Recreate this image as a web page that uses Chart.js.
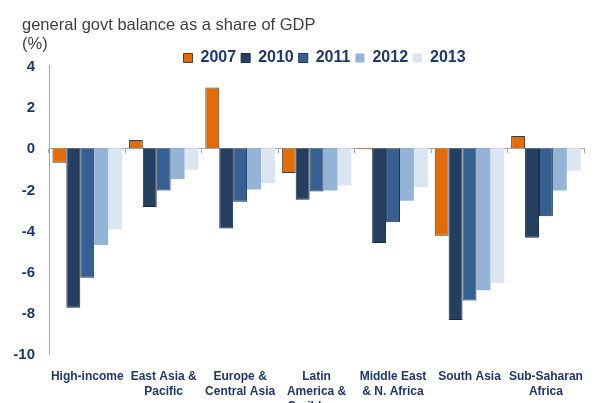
<!DOCTYPE html>
<html lang="en">
<head>
    <meta charset="UTF-8">
    <title>General govt balance</title>
    <script src="https://cdn.jsdelivr.net/npm/chart.js"></script>
    <style>
        body { margin: 0; background: #ffffff; }
        canvas { display: block; }
    </style>
</head>
<body>
    <canvas id="balanceChart" width="599" height="403"></canvas>
    <script>
        // regions (x axis labels, multi-line)
        const regions = [
            ['High-income'],
            ['East Asia &', 'Pacific'],
            ['Europe &', 'Central Asia'],
            ['Latin', 'America &', 'Caribbean'],
            ['Middle East', '& N. Africa'],
            ['South Asia'],
            ['Sub-Saharan', 'Africa']
        ];
        const years = ['2007', '2010', '2011', '2012', '2013'];

        // balance, % of GDP
        const bal2007 = [-0.7, 0.4, 2.95, -1.2, -0.05, -4.25, 0.6];
        const bal2010 = [-7.75, -2.85, -3.9, -2.5, -4.6, -8.35, -4.35];
        const bal2011 = [-6.3, -2.05, -2.6, -2.1, -3.6, -7.4, -3.3];
        const bal2012 = [-4.7, -1.5, -2.0, -2.05, -2.55, -6.9, -2.05];
        const bal2013 = [-3.95, -1.05, -1.7, -1.8, -1.9, -6.55, -1.1];

        const yTicks = [4, 2, 0, -2, -4, -6, -8, -10];

        const navy = '#1f3864';
        const fontFamily = "'Liberation Sans', Arial, sans-serif";

        // nudge title and legend sideways to where the original has them
        const nudge = {
            id: 'nudge',
            afterLayout(chart) {
                chart.titleBlock.left += 11;
                chart.titleBlock.right += 11;
                chart.legend.left += 8;
                chart.legend.right += 8;
            }
        };

        const ctx = document.getElementById('balanceChart').getContext('2d');
        new Chart(ctx, {
            type: 'bar',
            data: {
                labels: regions,
                datasets: [
                    { label: years[0], data: bal2007, backgroundColor: '#e36c0a', borderColor: '#4a3a2a', borderWidth: 1 },
                    { label: years[1], data: bal2010, backgroundColor: '#243f60', borderColor: '#1a2a40', borderWidth: 1 },
                    { label: years[2], data: bal2011, backgroundColor: '#366092', borderColor: '#1f3350', borderWidth: 1 },
                    { label: years[3], data: bal2012, backgroundColor: '#95b3d7', borderWidth: 0 },
                    { label: years[4], data: bal2013, backgroundColor: '#dce6f2', borderWidth: 0 }
                ]
            },
            plugins: [nudge],
            options: {
                responsive: false,
                animation: false,
                categoryPercentage: 0.91,
                barPercentage: 1.0,
                layout: { padding: { left: 11, right: 2, top: 0, bottom: 0 } },
                plugins: {
                    title: {
                        display: true,
                        text: ['general govt balance as a share of GDP', '(%)'],
                        align: 'start',
                        color: '#3f3f3f',
                        font: { family: fontFamily, size: 16.5, weight: 'normal', lineHeight: 1.21 },
                        padding: { top: 15, bottom: -10 }
                    },
                    legend: {
                        display: true,
                        fullSize: false,
                        maxHeight: 21,
                        labels: {
                            boxWidth: 9,
                            boxHeight: 9,
                            padding: 5,
                            color: navy,
                            font: { family: fontFamily, size: 16, weight: 'bold' }
                        }
                    },
                    tooltip: { enabled: false }
                },
                scales: {
                    x: {
                        grid: { display: false, drawTicks: false },
                        border: { display: false },
                        ticks: {
                            padding: 15,
                            maxRotation: 0,
                            autoSkip: false,
                            color: navy,
                            font: { family: fontFamily, size: 12, weight: 'bold', lineHeight: 1.25 }
                        },
                        afterFit: (scale) => { scale.height = 49; }
                    },
                    x2: {
                        type: 'category',
                        position: { y: 0 },
                        offset: true,
                        z: 1,
                        grid: { offset: true, drawOnChartArea: false, drawTicks: true, tickLength: 4, color: '#a6a6a6' },
                        border: { display: true, color: '#a6a6a6', width: 1 },
                        ticks: { display: false }
                    },
                    y: {
                        min: -10,
                        max: 4,
                        afterBuildTicks: (scale) => {
                            scale.ticks = yTicks.map(v => ({ value: v }));
                        },
                        grid: { display: false, drawTicks: false },
                        border: { display: true, color: '#a6a6a6', width: 1 },
                        ticks: {
                            padding: 14,
                            labelOffset: 1,
                            color: navy,
                            font: { family: fontFamily, size: 15, weight: 'bold' }
                        },
                        afterFit: (scale) => { scale.width = 38; }
                    }
                }
            }
        });
    </script>
</body>
</html>
